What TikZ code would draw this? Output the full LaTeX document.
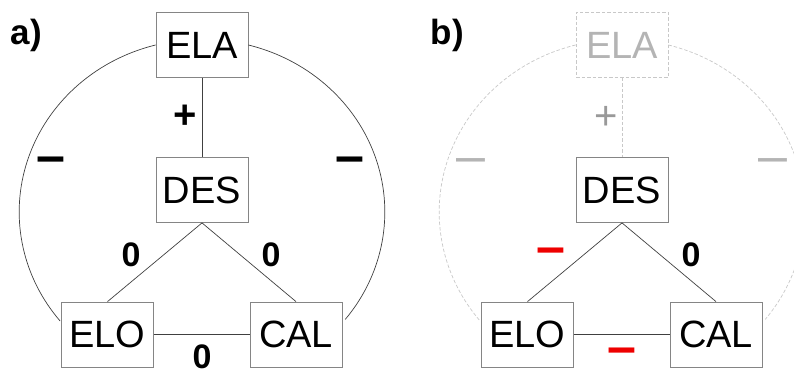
\documentclass[tikz,border=0pt]{standalone}
\usepackage{fontspec}
\setmainfont{Liberation Sans}
\definecolor{boxgray}{HTML}{858585}
\definecolor{linegray}{HTML}{404040}
\definecolor{fadegray}{HTML}{C8C8C8}
\definecolor{fadetext}{HTML}{B4B4B4}
\definecolor{barred}{HTML}{EE0000}
\begin{document}
\begin{tikzpicture}[x=1pt,y=-1pt,
  box/.style={draw=boxgray, line width=0.8pt, minimum width=92pt, minimum height=65pt, inner sep=0pt, font=\fontsize{38}{40}\selectfont},
  fadebox/.style={box, draw=fadegray, dash pattern=on 3.5pt off 2pt, text=fadetext},
  link/.style={draw=linegray, line width=0.7pt},
  fadelink/.style={draw=fadegray, line width=0.7pt, dash pattern=on 3.5pt off 2pt},
  lbl/.style={font=\bfseries\fontsize{34}{36}\selectfont, inner sep=0pt},
  pluslbl/.style={font=\bfseries\fontsize{40}{40}\selectfont, inner sep=0pt},
  fadelbl/.style={font=\fontsize{40}{40}\selectfont, inner sep=0pt, text=fadetext!85!black},
  barlbl/.style={font=\bfseries\fontsize{52}{52}\selectfont, inner sep=0pt, anchor=base},
  fadebar/.style={font=\fontsize{52}{52}\selectfont, inner sep=0pt, anchor=base, text=fadetext},
  panel/.style={font=\bfseries\fontsize{35}{36}\selectfont, inner sep=0pt, anchor=base west},
  ell/.style={x radius=182pt, y radius=172.5pt}]
\useasboundingbox (0,0) rectangle (794,369);

% ---------- panel a ----------
\node[panel] (pa) at (10.5,45) {a)};
\node[box] (ELA) at (202,45) {ELA};
\node[box] (DES) at (202,190) {DES};
\node[box] (ELO) at (107.5,334.5) {ELO};
\node[box] (CAL) at (296,334.5) {CAL};
\draw[link] (ELA.south) -- (DES.north);
\draw[link] (DES.south) -- (ELO.north);
\draw[link] (DES.south) -- (CAL.north);
\draw[link] (ELO.east) -- (CAL.west);
\draw[link] (ELA.west) arc[start angle=104.5, end angle=219.2, ell];
\draw[link] (ELA.east) arc[start angle=75.5, end angle=-38.5, ell];
\node[pluslbl] (pl) at (185.5,117) {+};
\node[lbl] (z1) at (131,255) {0};
\node[lbl] (z2) at (271,255) {0};
\node[lbl] (z3) at (202,357) {0};
\node[barlbl] (m1) at (51,173) {–};
\node[barlbl] (m2) at (350,173) {–};

% ---------- panel b ----------
\begin{scope}[xshift=420pt]
\node[panel] (pb) at (10.5,45) {b)};
\node[fadebox] (ELAb) at (202,45) {ELA};
\node[box] (DESb) at (202,190) {DES};
\node[box] (ELOb) at (107.5,334.5) {ELO};
\node[box] (CALb) at (296,334.5) {CAL};
\draw[fadelink] (ELAb.south) -- (DESb.north);
\draw[link] (DESb.south) -- (ELOb.north);
\draw[link] (DESb.south) -- (CALb.north);
\draw[link] (ELOb.east) -- (CALb.west);
\draw[fadelink] (ELAb.west) arc[start angle=104.5, end angle=219.2, ell];
\draw[fadelink] (ELAb.east) arc[start angle=75.5, end angle=-38.5, ell];
\node[fadelbl] (plb) at (186,118) {+};
\node[barlbl, text=barred] (r1) at (131,264) {–};
\node[lbl] (z2b) at (271,255) {0};
\node[barlbl, text=barred] (r2) at (202,364) {–};
\node[fadebar] (g1) at (51,173) {–};
\node[fadebar] (g2) at (353,173) {–};
\end{scope}
\end{tikzpicture}
\end{document}
